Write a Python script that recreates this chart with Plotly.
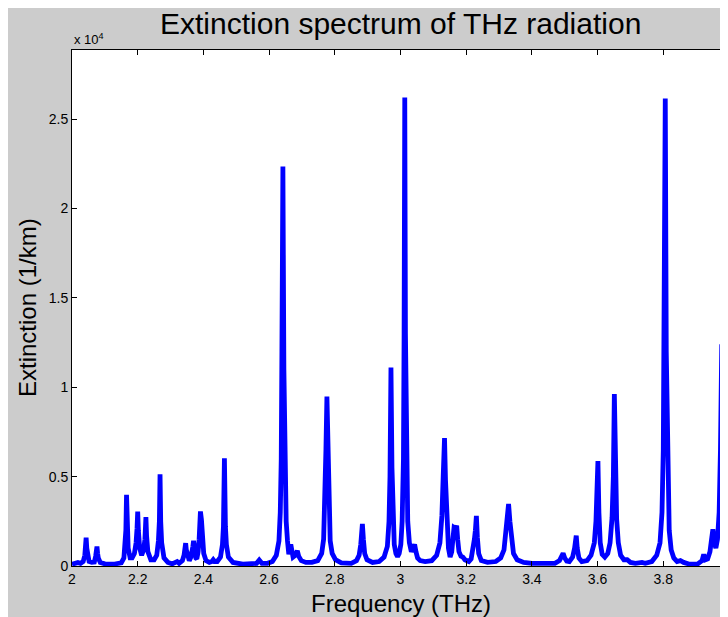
import plotly.graph_objects as go

# Frequency (THz) and extinction (1/km)
freq = [
    2.000, 2.010, 2.018, 2.026, 2.034, 2.039, 2.041, 2.043, 2.045, 2.047, 2.052, 2.060,
    2.068, 2.072, 2.074, 2.076, 2.078, 2.080, 2.086, 2.100, 2.130, 2.150, 2.158, 2.162,
    2.164, 2.166, 2.168, 2.171, 2.177, 2.183, 2.190, 2.195, 2.198, 2.200, 2.202, 2.206,
    2.212, 2.218, 2.222, 2.225, 2.227, 2.231, 2.240, 2.250, 2.258, 2.263, 2.266, 2.268,
    2.270, 2.273, 2.280, 2.292, 2.305, 2.316, 2.320, 2.326, 2.336, 2.341, 2.344, 2.346,
    2.348, 2.352, 2.357, 2.362, 2.366, 2.368, 2.370, 2.373, 2.377, 2.380, 2.384, 2.387,
    2.389, 2.391, 2.394, 2.397, 2.401, 2.408, 2.418, 2.426, 2.430, 2.434, 2.442, 2.452,
    2.458, 2.461, 2.464, 2.467, 2.470, 2.476, 2.490, 2.520, 2.550, 2.562, 2.570, 2.578,
    2.595, 2.610, 2.622, 2.630, 2.634, 2.637, 2.639, 2.642, 2.645, 2.648, 2.652, 2.656,
    2.660, 2.666, 2.673, 2.680, 2.686, 2.690, 2.698, 2.712, 2.730, 2.748, 2.760, 2.766,
    2.770, 2.773, 2.776, 2.779, 2.782, 2.786, 2.792, 2.802, 2.820, 2.850, 2.866, 2.874,
    2.879, 2.882, 2.884, 2.887, 2.891, 2.898, 2.915, 2.935, 2.950, 2.960, 2.965, 2.968,
    2.971, 2.974, 2.977, 2.981, 2.986, 2.991, 2.996, 3.001, 3.005, 3.009, 3.011, 3.013,
    3.015, 3.018, 3.022, 3.027, 3.033, 3.038, 3.043, 3.047, 3.052, 3.060, 3.075, 3.095,
    3.110, 3.120, 3.126, 3.130, 3.134, 3.137, 3.141, 3.146, 3.151, 3.156, 3.160, 3.163,
    3.167, 3.171, 3.174, 3.178, 3.184, 3.190, 3.196, 3.202, 3.208, 3.215, 3.221, 3.225,
    3.228, 3.231, 3.234, 3.238, 3.246, 3.265, 3.290, 3.305, 3.315, 3.321, 3.326, 3.329,
    3.333, 3.338, 3.344, 3.355, 3.375, 3.400, 3.440, 3.470, 3.484, 3.490, 3.495, 3.500,
    3.506, 3.514, 3.524, 3.530, 3.533, 3.535, 3.538, 3.543, 3.552, 3.568, 3.580, 3.590,
    3.595, 3.598, 3.601, 3.604, 3.608, 3.614, 3.622, 3.631, 3.638, 3.644, 3.648, 3.651,
    3.654, 3.658, 3.663, 3.670, 3.680, 3.690, 3.700, 3.715, 3.735, 3.745, 3.765, 3.780,
    3.790, 3.796, 3.800, 3.803, 3.806, 3.809, 3.813, 3.818, 3.824, 3.832, 3.842, 3.852,
    3.862, 3.880, 3.905, 3.918, 3.923, 3.928, 3.935, 3.942, 3.947, 3.951, 3.955, 3.960,
    3.965, 3.970, 3.974, 3.978, 3.982, 3.986, 3.990, 3.995, 4.000,
]
extinction = [
    100, 150, 190, 150, 250, 600, 1000, 1580, 1000, 600, 250, 200,
    220, 550, 700, 1090, 700, 450, 200, 120, 110, 180, 450, 1200,
    2000, 3980, 2000, 1000, 450, 450, 700, 1300, 2100, 3050, 2000, 1000,
    600, 900, 1500, 2730, 1700, 800, 350, 350, 600, 1400, 2500, 5130,
    2500, 1300, 450, 200, 120, 200, 250, 150, 300, 600, 900, 1280,
    900, 450, 300, 500, 800, 1100, 1410, 900, 450, 400, 800, 1500,
    2300, 3050, 2600, 1500, 700, 300, 200, 250, 350, 250, 250, 500,
    1200, 2200, 6030, 2200, 1200, 500, 200, 100, 100, 150, 330, 150,
    150, 250, 600, 1400, 3000, 6000, 12000, 22350, 11000, 5500, 2500, 1400,
    650, 1200, 500, 600, 850, 550, 300, 200, 200, 300, 700, 1500,
    3500, 6500, 9480, 6000, 3000, 1400, 700, 350, 180, 150, 300, 600,
    1200, 2000, 2350, 1500, 700, 350, 200, 250, 500, 1100, 2500, 5000,
    11100, 5500, 2400, 1200, 700, 520, 700, 1200, 2500, 6000, 13000, 26200,
    13000, 5500, 2500, 1300, 800, 1000, 1200, 800, 450, 300, 250, 300,
    600, 1300, 2800, 5000, 7150, 4800, 2200, 1000, 500, 800, 1600, 2150,
    2100, 2250, 1500, 800, 550, 500, 350, 300, 250, 400, 900, 1500,
    2000, 2800, 1600, 700, 300, 200, 250, 450, 900, 1800, 2900, 3470,
    2500, 1300, 700, 350, 200, 150, 120, 150, 300, 550, 710, 450,
    280, 250, 500, 1000, 1500, 1700, 1000, 450, 250, 300, 600, 1300,
    2500, 4000, 5870, 3000, 1300, 650, 500, 700, 1300, 2700, 5000, 9620,
    5000, 2600, 1300, 600, 350, 350, 200, 150, 200, 150, 250, 600,
    1300, 3000, 6500, 13000, 26150, 12000, 5000, 2000, 900, 450, 250, 300,
    200, 100, 120, 300, 650, 350, 400, 800, 1500, 2050, 1300, 1000,
    1500, 3000, 6500, 12400, 5000, 1500, 1000, 2000, 4800,
]

x_tickvals = [2.0, 2.2, 2.4, 2.6, 2.8, 3.0, 3.2, 3.4, 3.6, 3.8, 4.0]
x_ticktext = ["2", "2.2", "2.4", "2.6", "2.8", "3", "3.2", "3.4", "3.6", "3.8", "4"]
y_tickvals = [0, 5000, 10000, 15000, 20000, 25000]
y_ticktext = ["0", "0.5", "1", "1.5", "2", "2.5"]

FONT = "Liberation Sans, Arial, sans-serif"

fig = go.Figure()
fig.add_trace(go.Scatter(
    x=freq, y=extinction, mode="lines",
    line=dict(color="#0000ff", width=4.8),
    showlegend=False, hoverinfo="skip",
))

axis_common = dict(
    showline=True, linecolor="black", linewidth=1, mirror="allticks",
    ticks="inside", ticklen=5, tickwidth=1, tickcolor="black",
    showgrid=False, zeroline=False,
    tickfont=dict(family=FONT, size=14, color="black"),
)

fig.update_layout(
    width=721, height=609,
    margin=dict(l=64, r=0, t=42, b=51),
    paper_bgcolor="#cccccc", plot_bgcolor="white",
    xaxis=dict(range=[2, 4], tickmode="array", tickvals=x_tickvals,
               ticktext=x_ticktext, **axis_common),
    yaxis=dict(range=[0, 28860], tickmode="array", tickvals=y_tickvals,
               ticktext=y_ticktext, **axis_common),
    annotations=[
        dict(text="Extinction spectrum of THz radiation", xref="paper", yref="paper",
             x=0.5, y=1, yshift=27, xanchor="center", yanchor="middle", showarrow=False,
             font=dict(family=FONT, size=30, color="black")),
        dict(text="Frequency (THz)", xref="paper", yref="paper",
             x=0.5, y=0, yshift=-37, xanchor="center", yanchor="middle", showarrow=False,
             font=dict(family=FONT, size=24, color="black")),
        dict(text="Extinction (1/km)", xref="paper", yref="paper",
             x=0, y=0.5, xshift=-45, xanchor="center", yanchor="middle", showarrow=False,
             textangle=-90, font=dict(family=FONT, size=24, color="black")),
        dict(text="x 10<sup>4</sup>", xref="paper", yref="paper",
             x=0, y=1, yshift=11, xanchor="left", yanchor="middle", showarrow=False,
             font=dict(family=FONT, size=13, color="black")),
    ],
)

fig.write_html(
    "out.html",
    post_script="document.documentElement.style.overflow='hidden';",
)
